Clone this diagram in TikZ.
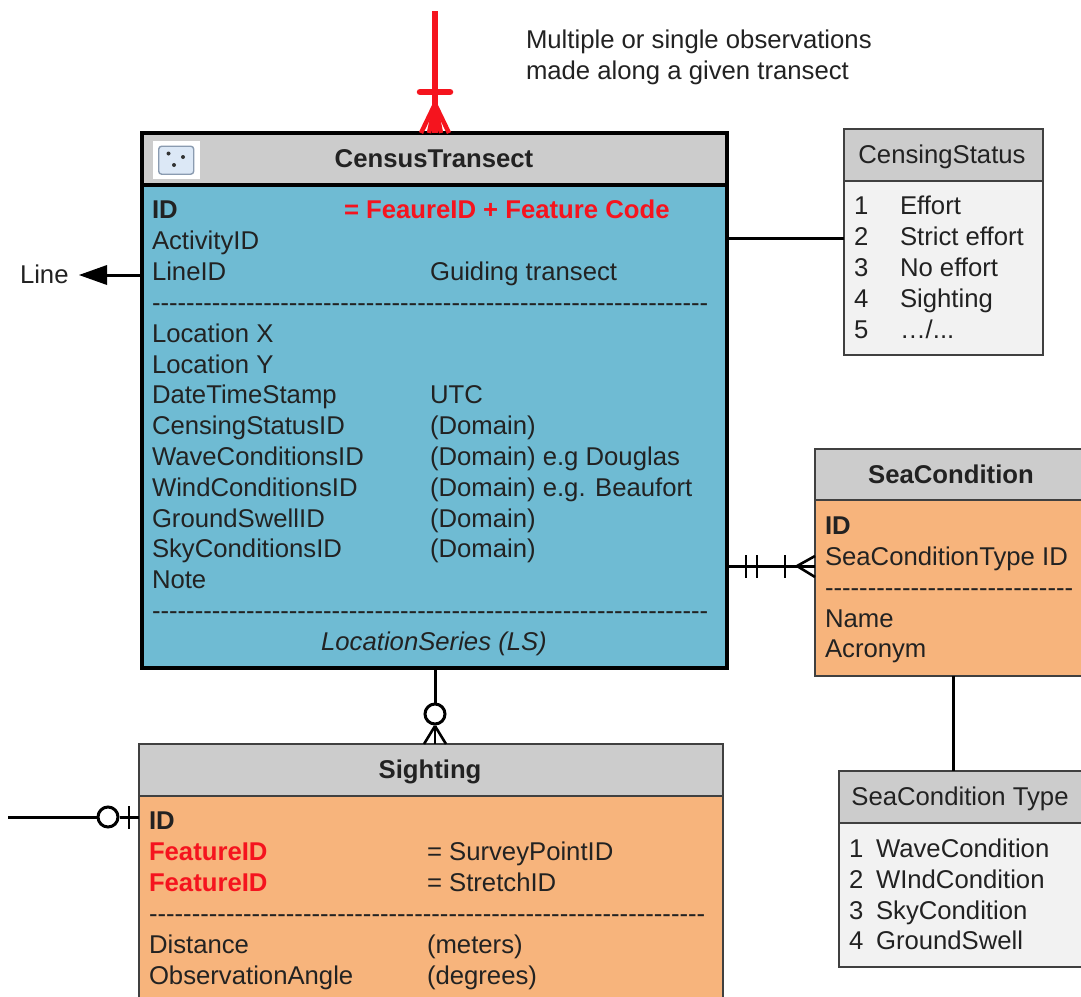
\documentclass[tikz,border=0pt]{standalone}
\usepackage{fontspec}
\setmainfont{Liberation Sans}
\definecolor{hdr}{HTML}{CCCCCC}
\definecolor{bluef}{HTML}{6FBBD3}
\definecolor{orangef}{HTML}{F7B47C}
\definecolor{greyf}{HTML}{F2F2F2}
\definecolor{edge}{HTML}{404040}
\definecolor{ink}{HTML}{222222}
\definecolor{redt}{HTML}{F5141E}
\definecolor{iconf}{HTML}{DCE8F6}
\definecolor{icone}{HTML}{8A9BB0}
\tikzset{
  x=1pt,y=-1pt,
  box/.style={anchor=north west,inner sep=0pt,outer sep=0pt,draw=edge,line width=2pt},
  thick box/.style={anchor=north west,inner sep=0pt,outer sep=0pt,draw=black,line width=4.5pt},
  txt/.style={anchor=base west,inner sep=0pt,outer sep=0pt,shift={(0,1)},text=ink,font=\fontsize{25.7}{30}\selectfont},
  hdtxt/.style={anchor=base,inner sep=0pt,outer sep=0pt,shift={(0,1)},text=ink,font=\fontsize{25.7}{30}\selectfont},
  bd/.style={font=\fontsize{25.7}{30}\selectfont\bfseries},
  redb/.style={text=redt,font=\fontsize{25.7}{30}\selectfont\bfseries},
  conn/.style={draw=black,line width=3pt},
  thin conn/.style={draw=black,line width=2.6pt},
  redconn/.style={draw=redt,line width=6.5pt},
  redfoot/.style={draw=redt,line width=4.5pt},
}
\newcommand{\dashrow}[1]{\foreach \i in {1,...,#1}{-}}
\begin{document}
\begin{tikzpicture}
\clip (0,0) rectangle (1081,996);
\useasboundingbox (0,0) rectangle (1081,996);
\fill[white] (0,0) rectangle (1081,996);

% ---- boxes
\node[thick box,fill=bluef,minimum width=585pt,minimum height=535pt] (ct) at (142,133) {};
\node[thick box,fill=hdr,minimum width=585pt,minimum height=52pt] (cth) at (142,133) {};
\node[box,fill=greyf,minimum width=199pt,minimum height=226pt] (cs) at (844,129) {};
\node[box,fill=hdr,minimum width=199pt,minimum height=52pt] (csh) at (844,129) {};
\node[box,fill=orangef,minimum width=290pt,minimum height=227pt] (sc) at (815,449) {};
\node[box,fill=hdr,minimum width=290pt,minimum height=51pt] (sch) at (815,449) {};
\node[box,fill=greyf,minimum width=266pt,minimum height=196pt] (st) at (839,771) {};
\node[box,fill=hdr,minimum width=266pt,minimum height=52pt] (sth) at (839,771) {};
\node[box,fill=orangef,minimum width=584pt,minimum height=300pt] (si) at (139,744) {};
\node[box,fill=hdr,minimum width=584pt,minimum height=52pt] (sih) at (139,744) {};

% ---- icon
\node[anchor=north west,fill=white,inner sep=0pt,minimum width=47pt,minimum height=38pt] (iconbg) at (152.500,141) {};
\node[anchor=center,fill=iconf,draw=icone,line width=1.4pt,rounded corners=3pt,inner sep=0pt,minimum width=35pt,minimum height=28pt] (icon) at (iconbg.center) {};
\fill[black!80] (168.500,153.500) circle (2pt) (183,157) circle (2pt) (174,165) circle (2pt);

% ---- free ends
\coordinate (topend) at (435,11);
\coordinate (linestub) at (8,817);
\coordinate (redbar) at (435,92);
\coordinate (redjoin) at (435,104);

% ---- top red connector
\draw[redconn] (topend) -- (topend |- ct.north);
\draw[redconn,line cap=round] ([xshift=-15pt]redbar) -- ([xshift=15pt]redbar);
\draw[redfoot] (redjoin) -- ([xshift=-14pt]redjoin |- ct.north);
\draw[redfoot] (redjoin) -- ([xshift=14pt]redjoin |- ct.north);
\draw[redfoot] (redjoin) -- ([xshift=-6pt]redjoin |- ct.north);
\draw[redfoot] (redjoin) -- ([xshift=6pt]redjoin |- ct.north);

% ---- Line arrow
\node[txt] (lineLabel) at (20,282) {Line};
\coordinate (lineOut) at (142,275);
\draw[conn] (lineOut) -- (107,275);
\fill[black] (79,275) -- (107,265) -- (107,285) -- cycle;

% ---- census status connector
\coordinate (csa) at (cs.west |- 0,238);
\draw[conn] (csa) -- (csa -| ct.east);

% ---- sea condition connector
\coordinate (sca) at (sc.west |- 0,566);
\draw[conn] (ct.east |- sca) -- (sca);
\draw[thin conn] (746,555) -- (746,578) (757,555) -- (757,578) (785,555) -- (785,578);
\draw[thin conn] (797,566) -- (sc.west |- 0,556) (797,566) -- (sc.west |- 0,577);

% ---- sea condition to type
\draw[conn] (sc.south -| 953,0) -- (st.north -| 953,0);

% ---- census to sighting
\node[circle,draw=black,line width=3pt,fill=white,inner sep=0pt,minimum size=20pt] (oc) at (435,714) {};
\draw[conn] (ct.south -| oc) -- (oc.north);
\coordinate (ojoin) at (435,726);
\draw[conn] (oc.south) -- (ojoin);
\draw[thin conn] (ojoin) -- ([xshift=-11pt]ojoin |- si.north);
\draw[thin conn] (ojoin) -- ([xshift=11pt]ojoin |- si.north);
\draw[thin conn] (ojoin) -- (ojoin |- si.north);

% ---- sighting left
\node[circle,draw=black,line width=3pt,fill=white,inner sep=0pt,minimum size=20pt] (oi) at (108,817) {};
\draw[conn] (linestub) -- (oi.west);
\draw[conn] (oi.east) -- (oi.east -| si.west);
\draw[thin conn] (129,806) -- (129,829);

% ---- note
\node[txt] (note1) at (526,47) {Multiple or single observations};
\node[txt] (note2) at (526,78) {made along a given transect};

% ---- census text
\node[hdtxt,bd] (cttitle) at (434,166) {CensusTransect};
\node[txt,bd] (c1) at (152,217) {ID};
\node[txt,redb] (c1b) at (344,217) {= FeaureID + Feature Code};
\node[txt] (c2) at (152,248) {ActivityID};
\node[txt] (c3) at (152,279) {LineID};
\node[txt] (c3b) at (430,279) {Guiding transect};
\node[txt] (cd1) at (152,310) {\dashrow{65}};
\node[txt] (c4) at (152,341) {Location X};
\node[txt] (c5) at (152,372) {Location Y};
\node[txt] (c6) at (152,402) {DateTimeStamp};
\node[txt] (c6b) at (430,402) {UTC};
\node[txt] (c7) at (152,433) {CensingStatusID};
\node[txt] (c7b) at (430,433) {(Domain)};
\node[txt] (c8) at (152,464) {WaveConditionsID};
\node[txt] (c8b) at (430,464) {(Domain) e.g Douglas};
\node[txt] (c9) at (152,495) {WindConditionsID};
\node[txt] (c9b) at (430,495) {(Domain) e.g. Beaufort};
\node[txt] (c10) at (152,526) {GroundSwellID};
\node[txt] (c10b) at (430,526) {(Domain)};
\node[txt] (c11) at (152,556) {SkyConditionsID};
\node[txt] (c11b) at (430,556) {(Domain)};
\node[txt] (c12) at (152,587) {Note};
\node[txt] (cd2) at (152,618) {\dashrow{65}};
\node[hdtxt] (c13) at (434,649) {\itshape LocationSeries (LS)};

% ---- censing status text
\node[hdtxt] (cstitle) at (942,162) {CensingStatus};
\node[txt] (s1) at (854,213) {1};
\node[txt] (s1b) at (900,213) {Effort};
\node[txt] (s2) at (854,244) {2};
\node[txt] (s2b) at (900,244) {Strict effort};
\node[txt] (s3) at (854,275) {3};
\node[txt] (s3b) at (900,275) {No effort};
\node[txt] (s4) at (854,306) {4};
\node[txt] (s4b) at (900,306) {Sighting};
\node[txt] (s5) at (854,337) {5};
\node[txt] (s5b) at (900,337) {…/...};

% ---- sea condition text
\node[hdtxt,bd] (sctitle) at (951,482) {SeaCondition};
\node[txt,bd] (e1) at (825,533) {ID};
\node[txt] (e2) at (825,564) {SeaConditionType ID};
\node[txt] (ed) at (825,595) {\dashrow{29}};
\node[txt] (e3) at (825,626) {Name};
\node[txt] (e4) at (825,656) {Acronym};

% ---- sea condition type text
\node[hdtxt] (sttitle) at (960,804) {SeaCondition Type};
\node[txt] (t1) at (849,856) {1};
\node[txt] (t1b) at (876,856) {WaveCondition};
\node[txt] (t2) at (849,887) {2};
\node[txt] (t2b) at (876,887) {WIndCondition};
\node[txt] (t3) at (849,918) {3};
\node[txt] (t3b) at (876,918) {SkyCondition};
\node[txt] (t4) at (849,948) {4};
\node[txt] (t4b) at (876,948) {GroundSwell};

% ---- sighting text
\node[hdtxt,bd] (sititle) at (430,777) {Sighting};
\node[txt,bd] (g1) at (149,828) {ID};
\node[txt,redb] (g2) at (149,859) {FeatureID};
\node[txt] (g2b) at (427,859) {= SurveyPointID};
\node[txt,redb] (g3) at (149,890) {FeatureID};
\node[txt] (g3b) at (427,890) {= StretchID};
\node[txt] (gd) at (149,921) {\dashrow{65}};
\node[txt] (g4) at (149,952) {Distance};
\node[txt] (g4b) at (427,952) {(meters)};
\node[txt] (g5) at (149,983) {ObservationAngle};
\node[txt] (g5b) at (427,983) {(degrees)};
\end{tikzpicture}
\end{document}
